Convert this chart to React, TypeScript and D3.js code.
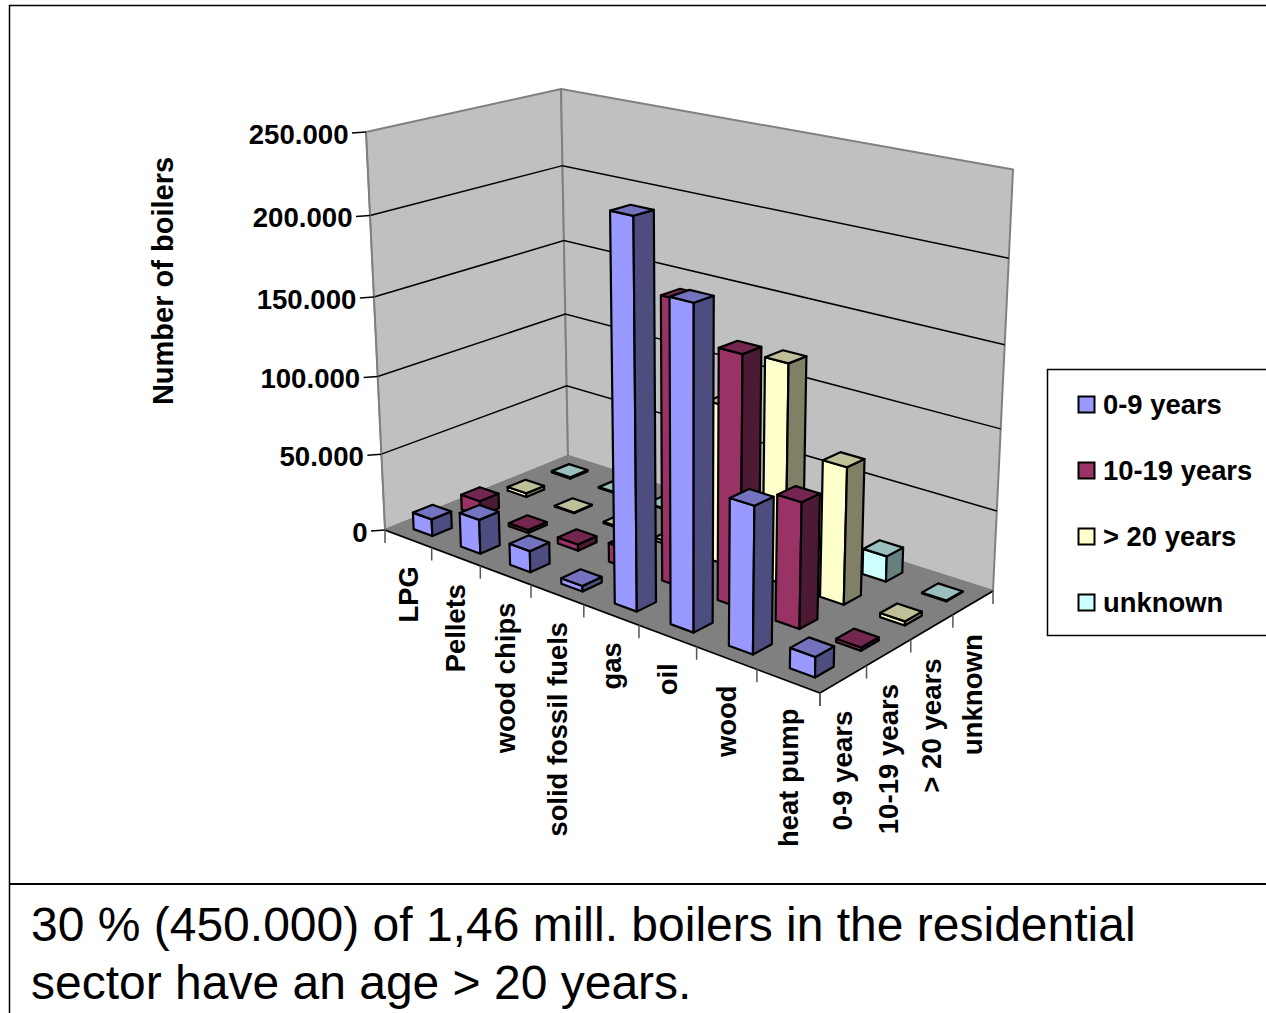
import React from "react";
import * as d3 from "d3";

// Chart data
const categories = ["LPG", "Pellets", "wood chips", "solid fossil fuels", "gas", "oil", "wood", "heat pump"];
const seriesNames = ["0-9 years", "10-19 years", "> 20 years", "unknown"];
const age0to9 = [11000, 22000, 13500, 3500, 231000, 191000, 87000, 12000];
const age10to19 = [10000, 2000, 4000, 12000, 174000, 152000, 76000, 2000];
const ageOver20 = [2500, 500, 1000, 2000, 100000, 136000, 84000, 2500];
const ageUnknown = [1000, 500, 500, 500, 500, 1000, 16000, 500];
const seriesValues = [age0to9, age10to19, ageOver20, ageUnknown];
const valueTicks = [0, 50000, 100000, 150000, 200000, 250000];
const tickLabels = ["0", "50.000", "100.000", "150.000", "200.000", "250.000"];

// Face shades per series: front, side, top
const frontColors = ["#9999ff", "#993366", "#ffffcc", "#ccffff"];
const sideColors = ["#4d4d80", "#4d1a33", "#808066", "#668080"];
const topColors = ["#7373bf", "#732650", "#bfbf99", "#99bfbf"];

// Scene frame: floor corners and the vanishing point of the vertical edges
const floorLeft: [number, number] = [385, 530];
const floorFront: [number, number] = [820, 693];
const floorRight: [number, number] = [993, 591];
const floorBack: [number, number] = [568, 456];
const vertical: [number, number] = [691, 6946];
const leftTopY = 132;
const FONT = "'Liberation Sans', Arial, sans-serif";

function makeHomography() {
  const [x0, y0] = floorLeft, [x1, y1] = floorFront, [x2, y2] = floorRight, [x3, y3] = floorBack;
  const dx1 = x1 - x2, dx2 = x3 - x2, sx = x0 - x1 + x2 - x3;
  const dy1 = y1 - y2, dy2 = y3 - y2, sy = y0 - y1 + y2 - y3;
  const den = dx1 * dy2 - dx2 * dy1;
  const g = (sx * dy2 - dx2 * sy) / den;
  const h = (dx1 * sy - sx * dy1) / den;
  return { a: x1 - x0 + g * x1, b: x3 - x0 + h * x3, c: x0, d: y1 - y0 + g * y1, e: y3 - y0 + h * y3, f: y0, g, h };
}
const H = makeHomography();
const lift = -(floorLeft[1] - leftTopY) / (vertical[1] - leftTopY);

const valueScale = d3.scaleLinear().domain([0, 250000]).range([0, 1]);
const uScale = d3.scaleBand<number>().domain(d3.range(categories.length)).range([0, 1]);
const vScale = d3.scaleBand<number>().domain(d3.range(seriesNames.length)).range([0, 1]);

function project(u: number, v: number, value = 0): [number, number] {
  // Heights shrink a touch toward the far corners of the scene
  const t = valueScale(value) * lift * (1 - 0.003 * v - 0.007 * u);
  const w = H.g * u + H.h * v + 1 + t;
  return [
    (H.a * u + H.b * v + H.c + t * vertical[0]) / w,
    (H.d * u + H.e * v + H.f + t * vertical[1]) / w,
  ];
}

const polygon = d3.line<[number, number]>().curve(d3.curveLinearClosed);
const barFraction = 0.4;

function Bar({ cat, ser }: { cat: number; ser: number }) {
  const value = seriesValues[ser][cat];
  const du = uScale.bandwidth(), dv = vScale.bandwidth();
  const u0 = uScale(cat)! + (du * (1 - barFraction)) / 2, u1 = u0 + du * barFraction;
  const v0 = vScale(ser)! + (dv * (1 - barFraction)) / 2, v1 = v0 + dv * barFraction;
  const style = { stroke: "#000", strokeWidth: 2.2, strokeLinejoin: "round" as const };
  return (
    <g>
      <path d={polygon([project(u0, v0), project(u1, v0), project(u1, v0, value), project(u0, v0, value)])!} fill={frontColors[ser]} {...style} />
      <path d={polygon([project(u1, v0), project(u1, v1), project(u1, v1, value), project(u1, v0, value)])!} fill={sideColors[ser]} {...style} />
      <path d={polygon([project(u0, v0, value), project(u1, v0, value), project(u1, v1, value), project(u0, v1, value)])!} fill={topColors[ser]} {...style} />
    </g>
  );
}

export default function App() {
  const top = valueTicks[valueTicks.length - 1];
  const wallStroke = { stroke: "#808080", strokeWidth: 2, strokeLinejoin: "round" as const };
  return (
    <svg width={1266} height={1013} style={{ position: "absolute", left: 0, top: 0, display: "block", background: "#fff" }} fontFamily={FONT}>
      {/* Slide frame */}
      <path d="M9.5,1013V5.5H1266" fill="none" stroke="#000" strokeWidth={1.5} />
      <path d="M9.5,884H1266" fill="none" stroke="#000" strokeWidth={2} />

      {/* Walls and floor */}
      <path d={polygon([project(0, 0), project(0, 1), project(0, 1, top), project(0, 0, top)])!} fill="#c0c0c0" {...wallStroke} />
      <path d={polygon([project(0, 1), project(1, 1), project(1, 1, top), project(0, 1, top)])!} fill="#c0c0c0" {...wallStroke} />
      <path d={polygon([project(0, 0), project(1, 0), project(1, 1), project(0, 1)])!} fill="#808080" {...wallStroke} />

      {/* Gridlines along both walls */}
      {valueTicks.slice(1, -1).map((t) => (
        <path key={t} d={d3.line()([project(0, 0, t), project(0, 1, t), project(1, 1, t)])!} fill="none" stroke="#000" strokeWidth={1.5} />
      ))}

      {/* Axis lines */}
      <path d={d3.line()([project(0, 0), project(1, 0), project(1, 1)])!} fill="none" stroke="#000" strokeWidth={1.5} />
      <path d={d3.line()([project(0, 0), project(0, 0, top)])!} fill="none" stroke="#808080" strokeWidth={1.5} />

      {/* Value axis */}
      {valueTicks.map((t, i) => {
        const [x, y] = project(0, 0, t);
        return (
          <g key={t}>
            <path d={`M${x - 14},${y + 1}L${x},${y}`} stroke="#000" strokeWidth={1.5} />
            <text x={x - 17.5} y={y + 2} dy="0.35em" textAnchor="end" fontSize={27.6} fontWeight="bold">{tickLabels[i]}</text>
          </g>
        );
      })}

      {/* Category axis */}
      {d3.range(categories.length + 1).map((i) => {
        const [x, y] = project(i / categories.length, 0);
        return <path key={i} d={`M${x},${y}V${y + 13}`} stroke="#555" strokeWidth={1.5} />;
      })}
      {categories.map((c, i) => {
        const [x, y] = project(uScale(i)! + uScale.bandwidth() / 2, 0);
        return (
          <text key={c} transform={`translate(${x},${y + 27.5}) rotate(-90)`} dy="0.35em" textAnchor="end" fontSize={27.4} fontWeight="bold">{c}</text>
        );
      })}

      {/* Series axis */}
      {d3.range(seriesNames.length + 1).map((i) => {
        const [x, y] = project(1, i / seriesNames.length);
        return <path key={i} d={`M${x},${y}V${y + 13}`} stroke="#555" strokeWidth={1.5} />;
      })}
      {seriesNames.map((s, i) => {
        const [x, y] = project(1, vScale(i)! + vScale.bandwidth() / 2);
        return (
          <text key={s} transform={`translate(${x - 1},${y + 31.5}) rotate(-90)`} dy="0.35em" textAnchor="end" fontSize={27.6} fontWeight="bold">{s}</text>
        );
      })}

      {/* Bars, farthest first */}
      {d3.range(seriesNames.length - 1, -1, -1).map((ser) =>
        categories.map((_, cat) => <Bar key={`${ser}-${cat}`} cat={cat} ser={ser} />)
      )}

      {/* Value axis title */}
      <text transform="translate(163,281) rotate(-90)" dy="0.35em" textAnchor="middle" fontSize={29} fontWeight="bold">Number of boilers</text>

      {/* Legend */}
      <rect x={1047.5} y={369.5} width={230} height={266} fill="#fff" stroke="#000" strokeWidth={1.5} />
      {seriesNames.map((s, i) => {
        const y = 404.5 + i * 66;
        return (
          <g key={s}>
            <rect x={1078.5} y={y - 8} width={16} height={16} fill={frontColors[i]} stroke="#000" strokeWidth={2} />
            <text x={1103} y={y} dy="0.35em" fontSize={27.4} fontWeight="bold">{s}</text>
          </g>
        );
      })}

      {/* Caption */}
      <text x={31} y={941} fontSize={48}>30 % (450.000) of 1,46 mill. boilers in the residential</text>
      <text x={31} y={999} fontSize={48}>sector have an age &gt; 20 years.</text>
    </svg>
  );
}
